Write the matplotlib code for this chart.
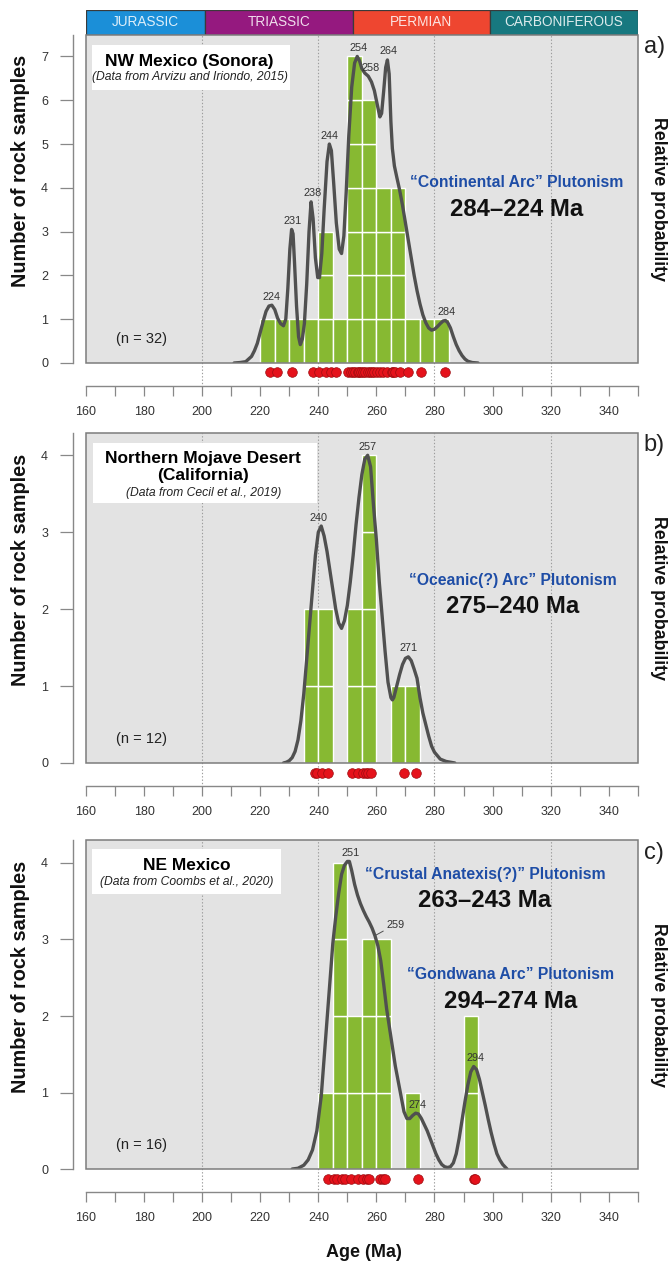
import numpy as np
import matplotlib
matplotlib.use("Agg")
import matplotlib.pyplot as plt
from matplotlib.patches import Rectangle
from matplotlib.ticker import MultipleLocator
from matplotlib.transforms import blended_transform_factory

plt.rcParams['font.family'] = ['Liberation Sans', 'DejaVu Sans']

# --- geologic time bar ---
periods = ["JURASSIC", "TRIASSIC", "PERMIAN", "CARBONIFEROUS"]
period_start = [160, 201, 252, 299]
period_end = [201, 252, 299, 350]

# histogram bins (5 Ma)
bin_edges = np.arange(215, 305, 5)

# --- a) NW Mexico (Sonora), n = 32 ---
ages_a = [223.5, 225.8, 230.9, 238.0, 240.3, 242.6, 244.3, 246.0,
          250.2, 251.2, 252.0, 252.8, 253.5, 254.0, 254.6,
          255.3, 256.2, 257.0, 257.8, 258.5, 259.3,
          260.2, 261.2, 262.3, 263.8,
          265.3, 265.8, 266.5, 268.0,
          270.9, 275.3, 283.7]
curve_age_a = [211, 213, 215, 217, 218, 219, 220, 221, 222, 223, 224, 225, 226, 227, 228,
               228.8, 229.5, 230.2, 230.8, 231.3, 231.8, 232.5, 233.2, 233.8, 234.5,
               235.2, 236, 236.8, 237.5, 238.2, 239, 239.8, 240.4, 241.2, 242, 243,
               243.8, 244.5, 245.3, 246.2, 247.2, 248, 248.8, 249.6, 250.5, 251.5,
               252.5, 253.4, 254.2, 255, 256, 257.2, 258.3, 259.3, 260.3, 261.2,
               261.8, 262.5, 263.2, 263.8, 264.4, 265, 265.5, 266.2, 267, 268, 269,
               270, 271, 272, 273, 274, 275, 276, 277, 278, 279, 280, 281, 282, 283,
               283.8, 284.6, 285.5, 286.5, 287.5, 288.5, 289.5, 290.5, 291.5, 293, 295]
curve_prob_a = [0.0, 0.01, 0.03, 0.15, 0.28, 0.45, 0.7, 0.95, 1.18, 1.3, 1.32, 1.22, 1.02, 0.9, 0.85,
                1.0, 1.7, 2.6, 3.05, 2.95, 2.3, 1.3, 0.6, 0.42, 0.55,
                0.9, 1.8, 3.0, 3.68, 3.3, 2.4, 1.95, 1.95, 2.5, 3.5, 4.6,
                5.0, 4.85, 4.1, 3.2, 2.6, 2.5, 2.9, 3.9, 5.2, 6.3,
                6.85, 7.0, 6.9, 6.72, 6.62, 6.55, 6.42, 6.22, 5.9, 5.62,
                5.7, 6.2, 6.75, 6.92, 6.6, 5.5, 4.9, 4.5, 4.25, 3.95, 3.6,
                3.2, 2.8, 2.4, 2.0, 1.65, 1.35, 1.1, 0.92, 0.8, 0.75, 0.77, 0.83, 0.9, 0.96,
                0.97, 0.92, 0.8, 0.6, 0.42, 0.28, 0.17, 0.09, 0.04, 0.01, 0.0]
peaks_a = [224, 231, 238, 244, 254, 258, 264, 284]

# --- b) Northern Mojave Desert (California), n = 12 ---
ages_b = [238.8, 239.6, 241.2, 243.5, 251.5, 253.5, 255.5, 256.5, 257.2, 258.0, 269.5, 273.5]
curve_age_b = [228, 229, 230, 231, 232, 233, 234, 235, 236, 237, 238, 239, 240, 241, 242,
               243, 244, 245, 246, 247, 248, 249, 250, 251, 252, 253, 254, 255, 256, 257,
               258, 259, 260, 261, 262, 263, 264, 265, 265.5, 266, 267, 268, 269, 270, 271,
               272, 273, 274, 275, 276, 277, 278, 279, 280, 282, 284, 287]
curve_prob_b = [0.0, 0.01, 0.03, 0.07, 0.15, 0.3, 0.55, 0.9, 1.35, 1.8, 2.25, 2.7, 3.0, 3.08, 2.95,
                2.75, 2.5, 2.25, 2.0, 1.82, 1.75, 1.85, 2.05, 2.35, 2.7, 3.1, 3.45, 3.75, 3.95, 4.0,
                3.85, 3.35, 2.9, 2.35, 1.9, 1.45, 1.05, 0.85, 0.82, 0.85, 1.0, 1.15, 1.28, 1.36, 1.38,
                1.33, 1.22, 1.1, 0.85, 0.65, 0.5, 0.35, 0.22, 0.14, 0.05, 0.02, 0.0]
peaks_b = [240, 257, 271]

# --- c) NE Mexico, n = 16 ---
ages_c = [243.5, 245.5, 246.5, 248.2, 249.2, 251.2, 253.5, 255.5, 256.7, 257.3,
          261.1, 262.3, 262.8, 274.3, 293.5, 294.0]
curve_age_c = [231, 233, 235, 236.5, 238, 239.5, 241, 242.5, 244, 245, 246, 247, 248, 249, 250,
               250.7, 251.5, 252.5, 253.5, 254.5, 255.5, 256.5, 257.5, 258.5, 259.5, 260.5,
               261.5, 262.5, 263.5, 264.5, 265.5, 266.5, 267.5, 268.5, 269.5, 270.5, 271.5,
               272.5, 273.5, 274.5, 275.5, 276.5, 277.5, 278.5, 279.5, 280.5, 281.5, 282.5,
               283.5, 284.5, 285.5, 286.5, 287.5, 288.5, 289.5, 290.5, 291.5, 292.5, 293.5,
               294.5, 295.5, 296.5, 297.5, 298.5, 299.5, 300.5, 301.5, 302.5, 303.5, 305]
curve_prob_c = [0.0, 0.01, 0.05, 0.12, 0.25, 0.5, 0.95, 1.7, 2.45, 2.95, 3.3, 3.6, 3.85, 3.97, 4.02,
                4.02, 3.9, 3.72, 3.58, 3.47, 3.38, 3.3, 3.23, 3.15, 3.05, 2.92,
                2.72, 2.42, 2.1, 1.85, 1.6, 1.35, 1.15, 0.95, 0.75, 0.66, 0.66,
                0.7, 0.73, 0.72, 0.66, 0.58, 0.5, 0.4, 0.3, 0.2, 0.12, 0.06,
                0.03, 0.02, 0.03, 0.08, 0.2, 0.4, 0.64, 0.88, 1.1, 1.27, 1.34,
                1.3, 1.17, 1.0, 0.83, 0.65, 0.48, 0.33, 0.2, 0.12, 0.06, 0.0]
peaks_c = [251, 259, 274, 294]

# --- colours ---
period_colors = ['#1B8FD8', '#95197F', '#EE4630', '#17787F']
bg_gray = '#E3E3E3'
frame_gray = '#7c7c7c'
axis_gray = '#888888'
bar_green = '#87B932'
curve_col = '#505050'
dot_red = '#E5121B'
blue = '#1E4DA6'

fig = plt.figure(figsize=(6.72, 12.63), dpi=100)
AX_L, AX_W = 0.128, 0.821

# period bar
ax_t = fig.add_axes([AX_L, 0.9723, AX_W, 0.0198])
ax_t.bar(period_start, 1, width=np.subtract(period_end, period_start), align='edge',
         color=period_colors, edgecolor='#3a3a3a', linewidth=0.9)
for name, s, e in zip(periods, period_start, period_end):
    ax_t.text((s + e) / 2, 0.5, name, ha='center', va='center', fontsize=9.8,
              color='white', alpha=0.85)
ax_t.set_xlim(160, 350)
ax_t.set_ylim(0, 1)
ax_t.axis('off')


def draw_panel(ax, ages, c_age, c_prob, peaks, ytop, ymax_tick, letter, n_text, leader=()):
    ax.set_xlim(160, 350)
    ax.set_ylim(0, ytop)
    ax.set_facecolor(bg_gray)

    # dotted guides, running down to the age axis
    for xv in [200, 240, 280, 320]:
        ax.axvline(xv, ymin=-0.072, ymax=1, color='#9c9c9c', ls=(0, (1.2, 1.8)),
                   lw=0.8, clip_on=False, zorder=1)

    # histogram as stacked unit boxes
    counts, edges = np.histogram(ages, bins=bin_edges)
    for level in range(counts.max()):
        sel = counts > level
        ax.bar(edges[:-1][sel], 1, width=5, bottom=level, align='edge',
               color=bar_green, edgecolor='white', linewidth=1.0, zorder=2)

    # relative probability curve
    ax.plot(c_age, c_prob, color=curve_col, lw=2.4, zorder=3,
            solid_joinstyle='round', solid_capstyle='round')

    ca, cp = np.asarray(c_age), np.asarray(c_prob)
    for p in peaks:
        m = np.abs(ca - p) <= 1.0
        h = cp[m].max() if m.any() else np.interp(p, ca, cp)
        if p in leader:
            ax.annotate(str(p), xy=(p + 0.5, np.interp(p + 0.5, ca, cp)), xytext=(8, 8),
                        textcoords='offset points', ha='left', va='center', fontsize=7.8,
                        color='#333333', zorder=4,
                        arrowprops=dict(arrowstyle='-', color=curve_col, lw=0.7,
                                        shrinkA=0, shrinkB=0))
        else:
            ax.annotate(str(p), xy=(p, h), xytext=(0, 2.5), textcoords='offset points',
                        ha='center', va='bottom', fontsize=7.8, color='#333333', zorder=4)

    # sample ages as red dots under the panel
    trans = blended_transform_factory(ax.transData, ax.transAxes)
    ax.scatter(ages, np.full(len(ages), -0.029), transform=trans, s=48, c=dot_red,
               edgecolors='#9B0D10', linewidths=0.5, clip_on=False, zorder=4)

    # frame + offset axes
    ax.add_patch(Rectangle((0, 0), 1, 1, transform=ax.transAxes, fill=False,
                           ec=frame_gray, lw=1.1, zorder=6, clip_on=False))
    for s in ['top', 'right']:
        ax.spines[s].set_visible(False)
    ax.spines['left'].set_position(('outward', 9.5))
    ax.spines['bottom'].set_position(('outward', 16.8))
    for s in ['left', 'bottom']:
        ax.spines[s].set_color(axis_gray)
        ax.spines[s].set_linewidth(1.0)
    ax.xaxis.set_major_locator(MultipleLocator(20))
    ax.xaxis.set_minor_locator(MultipleLocator(10))
    ax.tick_params(axis='x', which='both', direction='out', length=7, width=0.9,
                   color=axis_gray, labelsize=9, labelcolor='#333333', pad=7)
    ax.set_yticks(range(ymax_tick + 1))
    ax.tick_params(axis='y', direction='out', length=9.4, width=0.9, color=axis_gray,
                   labelsize=9, labelcolor='#333333', pad=8.4)

    ax.text(-0.1196, 0.585, 'Number of rock samples', transform=ax.transAxes, rotation=90,
            ha='center', va='center', fontsize=14.3, fontweight='bold', color='#111111')
    ax.text(1.038, 0.5, 'Relative probability', transform=ax.transAxes, rotation=270,
            ha='center', va='center', fontsize=12.8, fontweight='bold', color='#111111')
    ax.text(1.011, 0.962, letter, transform=ax.transAxes, ha='left', va='center',
            fontsize=17, color='#222222')
    ax.text(0.1, 0.074, n_text, transform=ax.transAxes, ha='center', va='center',
            fontsize=10.5, color='#222222', zorder=5)


def label_box(ax, rect, title_xy, title, src_y, source):
    ax.add_patch(Rectangle(rect[:2], rect[2], rect[3], transform=ax.transAxes,
                           fc='white', ec='none', zorder=5))
    ax.text(title_xy[0], title_xy[1], title, transform=ax.transAxes, ha='center',
            va='center', fontsize=12.5, fontweight='bold', linespacing=1.15, zorder=6)
    ax.text(title_xy[0], src_y, source, transform=ax.transAxes, ha='center', va='center',
            fontsize=8.7, style='italic', color='#222222', zorder=6)


def blurb(ax, x, y_blue, y_black, name, span):
    ax.text(x, y_blue, name, transform=ax.transAxes, ha='center', va='center',
            fontsize=11.3, fontweight='bold', color=blue, zorder=5)
    ax.text(x, y_black, span, transform=ax.transAxes, ha='center', va='center',
            fontsize=17.2, fontweight='bold', color='#111111', zorder=5)


ax_a = fig.add_axes([AX_L, 0.7126, AX_W, 0.2597])
ax_b = fig.add_axes([AX_L, 0.3959, AX_W, 0.2613])
ax_c = fig.add_axes([AX_L, 0.0744, AX_W, 0.2605])

draw_panel(ax_a, ages_a, curve_age_a, curve_prob_a, peaks_a, 7.49, 7, 'a)', '(n = 32)')
draw_panel(ax_b, ages_b, curve_age_b, curve_prob_b, peaks_b, 4.29, 4, 'b)', '(n = 12)')
draw_panel(ax_c, ages_c, curve_age_c, curve_prob_c, peaks_c, 4.30, 4, 'c)', '(n = 16)',
           leader=(259,))

label_box(ax_a, (0.0103, 0.832, 0.36, 0.1375), (0.188, 0.919), 'NW Mexico (Sonora)',
          0.873, '(Data from Arvizu and Iriondo, 2015)')
label_box(ax_b, (0.013, 0.789, 0.405, 0.18), (0.2125, 0.897),
          'Northern Mojave Desert\n(California)', 0.817, '(Data from Cecil et al., 2019)')
label_box(ax_c, (0.011, 0.835, 0.342, 0.137), (0.182, 0.924), 'NE Mexico',
          0.873, '(Data from Coombs et al., 2020)')

blurb(ax_a, 0.78, 0.551, 0.469, '\u201cContinental Arc\u201d Plutonism', '284\u2013224 Ma')
blurb(ax_b, 0.774, 0.552, 0.474, '\u201cOceanic(?) Arc\u201d Plutonism', '275\u2013240 Ma')
blurb(ax_c, 0.723, 0.894, 0.815, '\u201cCrustal Anatexis(?)\u201d Plutonism', '263\u2013243 Ma')
blurb(ax_c, 0.769, 0.590, 0.508, '\u201cGondwana Arc\u201d Plutonism', '294\u2013274 Ma')

fig.text(0.5417, 0.0087, 'Age (Ma)', ha='center', va='center', fontsize=13,
         fontweight='bold', color='#111111')

fig.savefig('out.png', dpi=100)
